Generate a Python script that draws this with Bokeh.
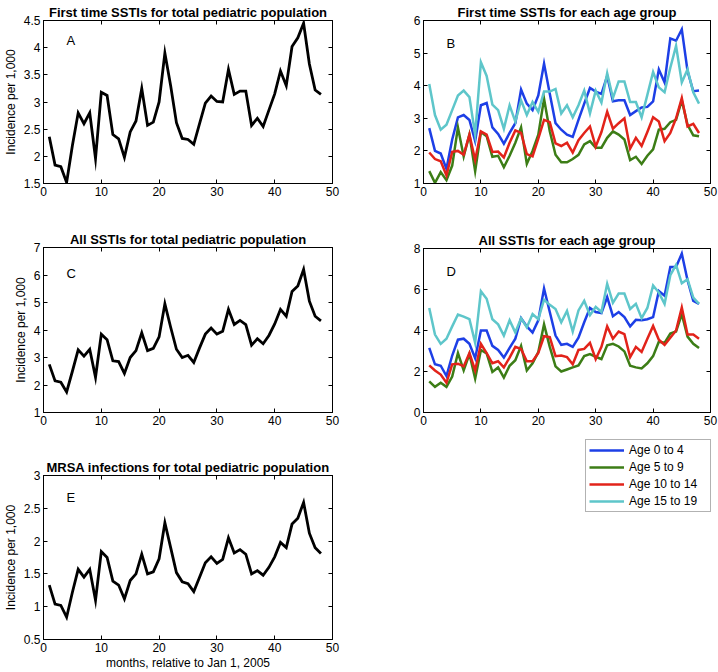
from bokeh.plotting import figure
from bokeh.models import Range1d, FixedTicker, LinearAxis, Label, Legend, LegendItem
from bokeh.layouts import row, column
from bokeh.embed import file_html
from bokeh.resources import INLINE

# ---------------- data ----------------
months = list(range(1, 49))

first_total = [2.36, 1.84, 1.81, 1.52, 2.20, 2.80, 2.60, 2.80, 1.96, 3.18,
               3.12, 2.40, 2.32, 1.98, 2.45, 2.65, 3.25, 2.57, 2.63, 3.00,
               3.90, 3.30, 2.62, 2.33, 2.31, 2.22, 2.60, 2.98, 3.11, 3.01,
               3.00, 3.60, 3.14, 3.20, 3.20, 2.57, 2.70, 2.55, 2.85, 3.15,
               3.57, 3.30, 4.02, 4.18, 4.45, 3.70, 3.22, 3.14]

all_total = [2.75, 2.15, 2.10, 1.75, 2.50, 3.28, 3.05, 3.30, 2.28, 3.85,
             3.65, 2.88, 2.85, 2.42, 3.00, 3.25, 3.90, 3.25, 3.33, 3.75,
             4.95, 4.10, 3.30, 3.00, 3.08, 2.82, 3.35, 3.85, 4.07, 3.85,
             3.95, 4.75, 4.20, 4.35, 4.20, 3.45, 3.68, 3.50, 3.80, 4.22,
             4.75, 4.50, 5.40, 5.60, 6.20, 5.05, 4.50, 4.33]

mrsa_total = [1.33, 1.04, 1.02, 0.84, 1.22, 1.57, 1.45, 1.57, 1.10, 1.84,
              1.75, 1.39, 1.33, 1.12, 1.40, 1.50, 1.80, 1.50, 1.53, 1.73,
              2.28, 1.90, 1.52, 1.38, 1.35, 1.23, 1.45, 1.67, 1.76, 1.66,
              1.72, 2.05, 1.82, 1.87, 1.80, 1.50, 1.55, 1.48, 1.60, 1.76,
              1.98, 1.90, 2.26, 2.35, 2.59, 2.12, 1.90, 1.81]

first_age_0_4 = [2.70, 2.00, 1.92, 1.45, 2.35, 3.03, 3.10, 2.95, 2.30, 3.40,
                 3.47, 2.72, 2.52, 2.22, 2.55, 2.85, 3.88, 3.45, 3.25, 3.70,
                 4.68, 3.75, 2.85, 2.65, 2.50, 2.43, 2.95, 3.45, 3.93, 3.82,
                 3.75, 4.30, 3.52, 3.55, 3.55, 3.10, 3.22, 3.33, 3.35, 3.52,
                 4.50, 4.10, 5.45, 5.38, 5.73, 4.45, 3.83, 3.85]
first_age_5_9 = [1.38, 1.02, 1.35, 1.10, 1.55, 2.72, 1.83, 2.50, 1.38, 2.58,
                 2.45, 1.82, 1.85, 1.50, 1.85, 2.25, 2.72, 1.60, 2.00, 2.50,
                 3.60, 2.60, 1.88, 1.65, 1.65, 1.75, 1.88, 2.20, 2.30, 2.10,
                 2.10, 2.40, 2.60, 2.50, 2.35, 1.72, 1.82, 1.60, 1.85, 2.05,
                 2.65, 2.68, 2.88, 2.95, 3.55, 2.80, 2.48, 2.45]
first_age_10_14 = [1.95, 1.75, 1.68, 1.25, 1.97, 2.00, 1.88, 2.50, 1.72, 2.60,
                   2.50, 1.97, 1.98, 1.80, 2.25, 2.63, 2.55, 1.90, 1.83, 2.38,
                   2.95, 2.88, 2.23, 2.15, 2.25, 1.95, 2.33, 2.55, 2.75, 2.13,
                   2.58, 3.20, 2.68, 2.85, 3.00, 2.07, 2.40, 2.15, 2.58, 3.03,
                   2.90, 2.30, 2.55, 3.00, 3.62, 2.75, 2.83, 2.55]
first_age_15_19 = [4.05, 3.10, 2.65, 2.80, 3.25, 3.70, 3.85, 3.65, 2.50, 4.72,
                   4.30, 3.42, 3.25, 2.68, 3.40, 2.90, 3.55, 3.10, 3.50, 3.20,
                   3.82, 3.82, 3.90, 3.15, 3.40, 3.03, 3.40, 3.85, 3.15, 3.85,
                   3.48, 4.38, 3.62, 4.13, 4.13, 3.50, 3.50, 3.03, 3.72, 4.42,
                   3.95, 3.80, 4.55, 5.22, 4.10, 4.50, 3.80, 3.45]

all_age_0_4 = [3.15, 2.35, 2.28, 1.78, 2.78, 3.55, 3.60, 3.35, 2.65, 4.00,
               4.00, 3.25, 3.05, 2.68, 3.15, 3.60, 4.60, 4.20, 3.90, 4.50,
               6.05, 4.90, 3.75, 3.30, 3.35, 3.20, 3.65, 4.40, 5.10, 4.90,
               4.85, 5.63, 4.70, 4.90, 4.65, 4.20, 4.52, 4.50, 4.55, 4.65,
               5.93, 5.70, 7.10, 7.10, 7.75, 6.45, 5.45, 5.30]
all_age_5_9 = [1.52, 1.25, 1.45, 1.25, 1.75, 2.90, 2.05, 2.85, 1.65, 3.05,
               2.88, 1.98, 2.20, 1.70, 2.28, 2.55, 3.25, 2.05, 2.40, 2.95,
               4.30, 3.20, 2.25, 2.00, 2.10, 2.20, 2.30, 2.75, 2.85, 2.72,
               2.60, 3.28, 3.35, 3.22, 2.98, 2.28, 2.20, 2.15, 2.40, 2.75,
               3.45, 3.40, 3.85, 3.95, 4.80, 3.70, 3.35, 3.15]
all_age_10_14 = [2.30, 2.05, 1.85, 1.45, 2.35, 2.38, 2.25, 2.90, 2.05, 3.35,
                 2.90, 2.40, 2.50, 2.20, 2.68, 3.20, 3.10, 2.50, 2.50, 2.90,
                 3.72, 3.68, 2.75, 2.78, 2.70, 2.35, 3.05, 3.10, 3.40, 2.60,
                 3.20, 4.20, 3.60, 3.95, 3.82, 2.70, 3.20, 2.95, 3.60, 4.22,
                 3.55, 3.30, 3.65, 4.00, 5.12, 3.80, 3.80, 3.60]
all_age_15_19 = [5.10, 3.80, 3.35, 3.60, 4.20, 4.78, 4.68, 4.55, 3.40, 5.92,
                 5.55, 4.55, 4.30, 3.75, 4.50, 3.90, 4.60, 4.15, 4.80, 4.55,
                 5.50, 5.25, 5.05, 4.40, 4.95, 3.95, 4.98, 5.45, 4.75, 5.15,
                 4.90, 6.28, 5.35, 5.80, 5.80, 5.05, 5.30, 4.60, 5.10, 6.20,
                 5.85, 5.30, 6.70, 7.20, 6.30, 6.50, 5.60, 5.30]

age_labels = ["Age 0 to 4", "Age 5 to 9", "Age 10 to 14", "Age 15 to 19"]
age_colors = ["#1d3fe6", "#3c7d16", "#e2231a", "#5ec6ca"]

x_ticks = [0, 10, 20, 30, 40, 50]
ticks_a = [1.5, 2, 2.5, 3, 3.5, 4, 4.5]
ticks_b = [1, 2, 3, 4, 5, 6]
ticks_c = [1, 2, 3, 4, 5, 6, 7]
ticks_d = [0, 2, 4, 6, 8]
ticks_e = [0.5, 1, 1.5, 2, 2.5, 3]

FONT = "Liberation Sans"


def style_axis(ax, ticks, show_labels=True):
    ax.ticker = FixedTicker(ticks=ticks)
    ax.axis_line_color = "black"
    ax.axis_line_width = 1
    ax.major_tick_line_color = "black"
    ax.major_tick_in = 4
    ax.major_tick_out = 0
    ax.minor_tick_line_color = None
    ax.major_label_text_font = FONT
    if show_labels:
        ax.major_label_overrides = {t: f"{t:g}" for t in ticks}
        ax.major_label_text_color = "black"
        ax.major_label_text_font_size = "12px"
        ax.major_label_standoff = 3
    else:
        ax.major_label_text_color = None
        ax.major_label_text_font_size = "1px"
        ax.major_label_standoff = 0
    ax.axis_label_text_font = FONT
    ax.axis_label_text_font_size = "12px"
    ax.axis_label_text_font_style = "normal"
    ax.axis_label_text_color = "black"
    ax.axis_label_standoff = 3


def panel(title, tag, yticks, fw, fh, left, right, top, bottom, tag_dy,
          ylabel=None, xlabel=None):
    p = figure(frame_width=fw, frame_height=fh,
               x_range=Range1d(x_ticks[0], x_ticks[-1]),
               y_range=Range1d(yticks[0], yticks[-1]),
               output_backend="svg", toolbar_location=None,
               min_border_left=left, min_border_right=right,
               min_border_top=top, min_border_bottom=bottom)
    p.title.text = title
    p.title.text_font = FONT
    p.title.text_font_size = "13px"
    p.title.text_font_style = "bold"
    p.title.text_color = "black"
    p.title.align = "center"
    p.title.standoff = 2
    p.xgrid.grid_line_color = None
    p.ygrid.grid_line_color = None
    p.outline_line_color = "black"
    p.outline_line_width = 1
    p.outline_line_alpha = 1
    p.background_fill_color = "white"
    p.border_fill_color = "white"
    style_axis(p.xaxis[0], x_ticks)
    style_axis(p.yaxis[0], yticks)
    if ylabel:
        p.yaxis[0].axis_label = ylabel
    if xlabel:
        p.xaxis[0].axis_label = xlabel
        p.xaxis[0].axis_label_standoff = 1
    top_ax = LinearAxis()
    style_axis(top_ax, x_ticks, show_labels=False)
    p.add_layout(top_ax, "above")
    right_ax = LinearAxis()
    style_axis(right_ax, yticks, show_labels=False)
    p.add_layout(right_ax, "right")
    p.add_layout(Label(x=23, y=fh - tag_dy, x_units="screen", y_units="screen",
                       text=tag, text_font=FONT, text_font_size="13px",
                       text_color="black", text_baseline="middle", text_align="left"))
    return p


YL = "Incidence per 1,000"
LW_BLACK = 2.8
LW_COL = 2.5

# left column
pA = panel("First time SSTIs for total pediatric population", "A", ticks_a,
           289, 163, 41, 61, 20, 40, 20, ylabel=YL)
pA.line(months, first_total, line_color="black", line_width=LW_BLACK, line_join="miter")

pC = panel("All SSTIs for total pediatric population", "C", ticks_c,
           289, 165, 41, 61, 24, 40, 26, ylabel=YL)
pC.line(months, all_total, line_color="black", line_width=LW_BLACK, line_join="miter")

pE = panel("MRSA infections for total pediatric population", "E", ticks_e,
           289, 164, 41, 61, 23, 33, 22, ylabel=YL, xlabel="months, relative to Jan 1, 2005")
pE.line(months, mrsa_total, line_color="black", line_width=LW_BLACK, line_join="miter")

# right column
pB = panel("First time SSTIs for each age group", "B", ticks_b,
           287, 163, 30, 10, 20, 40, 23)
for ser, col in zip([first_age_0_4, first_age_5_9, first_age_10_14, first_age_15_19], age_colors):
    pB.line(months, ser, line_color=col, line_width=LW_COL, line_join="miter")

pD = panel("All SSTIs for each age group", "D", ticks_d,
           287, 164, 30, 10, 25, 20, 23)
for ser, col in zip([all_age_0_4, all_age_5_9, all_age_10_14, all_age_15_19], age_colors):
    pD.line(months, ser, line_color=col, line_width=LW_COL, line_join="miter")

# legend panel
pL = figure(frame_width=327, frame_height=240, x_range=Range1d(-20, -10), y_range=Range1d(-20, -10),
            output_backend="svg", toolbar_location=None,
            min_border_left=0, min_border_right=0, min_border_top=0, min_border_bottom=0)
pL.axis.visible = False
pL.xgrid.grid_line_color = None
pL.ygrid.grid_line_color = None
pL.outline_line_color = None
items = []
for lab, col, ser in zip(age_labels, age_colors,
                         [all_age_0_4, all_age_5_9, all_age_10_14, all_age_15_19]):
    r = pL.line(months, ser, line_color=col, line_width=LW_COL)
    items.append(LegendItem(label=lab, renderers=[r]))
leg = Legend(items=items, location=(192, 160), margin=0, padding=3, spacing=3,
             glyph_width=35, glyph_height=14, label_height=14, label_width=78,
             label_standoff=5,
             label_text_font=FONT, label_text_font_size="12px", label_text_color="black",
             border_line_color="#666666", border_line_width=1,
             background_fill_color="white", background_fill_alpha=1)
pL.add_layout(leg, "center")

layout = row(column(pA, pC, pE, spacing=0), column(pB, pD, pL, spacing=0), spacing=0)

with open("out.html", "w") as f:
    f.write(file_html(layout, INLINE))
